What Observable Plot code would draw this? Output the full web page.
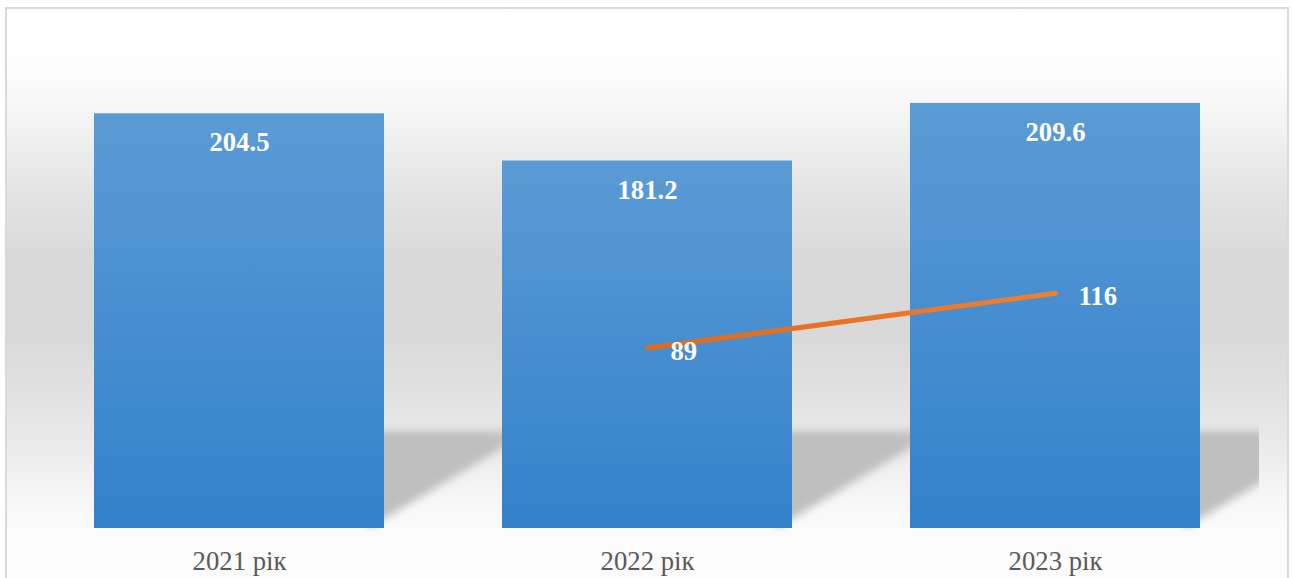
<!DOCTYPE html>
<html>
<head>
<meta charset="utf-8">
<script src="https://cdn.jsdelivr.net/npm/d3@7"></script>
<script src="https://cdn.jsdelivr.net/npm/@observablehq/plot@0.6"></script>
<style>
  body { margin: 0; background: #fff; width: 1294px; height: 578px; overflow: hidden; position: relative; }
  #frame {
    position: absolute; left: 5px; top: 7px; width: 1280px; height: 600px;
    border: 2px solid #d9d9d9;
    background: linear-gradient(to bottom,
      #ffffff 0px, #fefefe 50px, #f8f8f8 90px, #ededed 141px, #e2e2e2 191px,
      #d9d9d9 251px, #d9d9d9 321px, #dfdfdf 371px, #ebebeb 441px, #f7f7f7 491px, #fbfbfb 521px, #fbfbfb 600px);
  }
  #chart { position: absolute; left: 0; top: 0; }
</style>
</head>
<body>
<div id="frame"></div>
<div id="chart"></div>
<script>
// Data
const years = ["2021 рік", "2022 рік", "2023 рік"];
const barValues = [204.5, 181.2, 209.6];
const lineYears = ["2022 рік", "2023 рік"];
const lineValues = [89, 116];

const bars = years.map((year, i) => ({year, value: barValues[i]}));
const pts = lineYears.map((year, i) => ({year, value: lineValues[i]}));

function defsMark() {
  const defs = d3.create("svg:defs");
  const bg = defs.append("linearGradient").attr("id", "barGrad")
    .attr("x1", 0).attr("y1", 0).attr("x2", 0).attr("y2", 1);
  bg.append("stop").attr("offset", "0%").attr("stop-color", "#5B9BD5");
  bg.append("stop").attr("offset", "100%").attr("stop-color", "#3381CB");
  const lg = defs.append("linearGradient").attr("id", "lineGrad")
    .attr("x1", 0).attr("y1", 0).attr("x2", 1).attr("y2", 0);
  lg.append("stop").attr("offset", "0%").attr("stop-color", "#E06A1B");
  lg.append("stop").attr("offset", "100%").attr("stop-color", "#EE7F33");
  const f = defs.append("filter").attr("id", "shBlur")
    .attr("x", "-20%").attr("y", "-20%").attr("width", "140%").attr("height", "140%");
  f.append("feGaussianBlur").attr("stdDeviation", 4);
  return defs.node();
}

function shadowMark(index, scales, values, dims) {
  const x = scales.x, y = scales.y;
  const bw = x.bandwidth ? x.bandwidth() : 290;
  const step = x.step ? x.step() : 408;
  const gap = step - bw;
  const base = y(0);
  const g = d3.create("svg:g");
  const left = dims.marginLeft, right = dims.width - dims.marginRight;
  g.append("clipPath").attr("id", "shClip")
    .append("rect").attr("x", left).attr("y", 0).attr("width", right - left).attr("height", dims.height);
  const inner = g.append("g").attr("clip-path", "url(#shClip)")
    .append("g").attr("filter", "url(#shBlur)");
  const slope = 0.6;
  for (const yr of years) {
    const r = x(yr) + bw;
    const x0 = r - 15, x1 = r + gap + 20;
    const yb = xx => base - 9 - (xx - r) * slope;
    const p = [[x0, base - 97], [x1, base - 97], [x1, yb(x1)], [x0, yb(x0)]];
    inner.append("polygon").attr("points", p.map(q => q.join(",")).join(" "))
      .attr("fill", "#bfbfbf");
  }
  return g.node();
}

const chart = Plot.plot({
  width: 1294,
  height: 578,
  marginLeft: 35,
  marginRight: 35,
  marginTop: 21,
  marginBottom: 50,
  style: {background: "transparent", fontFamily: "'Liberation Serif', 'Times New Roman', serif", color: "#595959"},
  x: {domain: years, paddingInner: 0.2892, paddingOuter: 0.1446, label: null},
  y: {domain: [0, 250], axis: null},
  marks: [
    defsMark,
    shadowMark,
    Plot.barY(bars, {x: "year", y: "value", fill: "url(#barGrad)"}),
    Plot.axisX({tickSize: 0, tickPadding: 23, fontSize: 26.7, label: null, fill: "#595959"}),
    Plot.text(bars, {x: "year", y: "value", text: d => d.value.toFixed(1), dy: 29,
      fill: "white", fontWeight: "bold", fontSize: 26.7}),
    Plot.line(pts, {x: "year", y: "value", stroke: "url(#lineGrad)", strokeWidth: 5, strokeLinecap: "round"}),
    Plot.text(pts, {x: "year", y: "value", text: d => String(d.value), textAnchor: "start",
      dx: 23, dy: 3, fill: "white", fontWeight: "bold", fontSize: 26.7})
  ]
});
document.getElementById("chart").appendChild(chart);
</script>
</body>
</html>
